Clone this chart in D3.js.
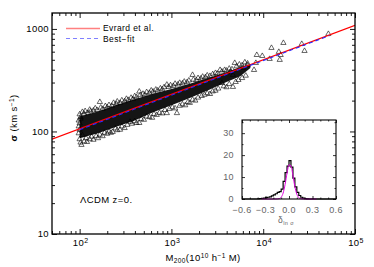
<!DOCTYPE html><meta charset="utf-8">
<title>sigma - M200</title>
<style>
  body{margin:0;background:#fff}
  svg{display:block}
  text{font-family:"Liberation Sans",Arial,sans-serif;letter-spacing:0.4px}
</style>
<script src="https://d3js.org/d3.v7.min.js"></script>
<body><script>
/* ---- data ---- */
const xMajor = [1e2, 1e3, 1e4, 1e5];
const xExp   = ["2", "3", "4", "5"];
const yMajor = [10, 100, 1000];

// dense core of the halo cloud (log10 M, lower / upper sigma)
const coreLogM = [2.0, 2.2, 2.4, 2.6, 2.8, 3.0, 3.2, 3.4, 3.6, 3.75, 3.86];
const coreLo   = [86, 96, 111, 128, 154, 180, 212, 252, 304, 346, 415];
const coreHi   = [140, 157, 181, 206, 233, 260, 292, 332, 377, 425, 450];

// individual haloes on the fringe of the cloud [log10 M, sigma]
const upperPts = [[2.00,147],[2.01,138],[2.03,155],[2.05,149],[2.06,158],[2.09,152],[2.11,163],[2.12,157],
  [2.15,160],[2.17,168],[2.19,162],[2.22,194],[2.23,171],[2.25,166],[2.28,177],[2.30,172],[2.32,181],
  [2.35,178],[2.37,190],[2.40,186],[2.41,196],[2.44,190],[2.46,201],[2.49,197],[2.51,208],[2.53,203],
  [2.56,213],[2.58,207],[2.60,221],[2.62,216],[2.65,245],[2.66,226],[2.69,233],[2.71,228],[2.73,242],
  [2.76,238],[2.78,251],[2.80,245],[2.83,256],[2.85,251],[2.88,263],[2.90,258],[2.92,270],[2.95,286],
  [2.97,272],[2.99,282],[3.02,278],[3.04,292],[3.07,287],[3.09,298],[3.12,294],[3.14,306],[3.17,302],
  [3.19,314],[3.23,356],[3.24,320],[3.27,316],[3.29,332],[3.32,328],[3.34,342],[3.37,338],[3.39,352],
  [3.42,348],[3.45,362],[3.48,372],[3.50,366],[3.53,398],[3.55,384],[3.58,398],[3.60,392],[3.63,410],
  [3.66,404],[3.69,466],[3.71,432],[3.74,450],[3.77,442],[3.80,472],[3.83,460]];
const lowerPts = [[2.00,84],[2.01,78],[2.02,74],[2.03,92],[2.05,80],[2.07,86],[2.08,79],[2.11,84],
  [2.13,89],[2.15,83],[2.18,90],[2.20,86],[2.22,93],[2.25,90],[2.27,97],[2.30,95],[2.32,100],[2.34,97],
  [2.36,99],[2.39,107],[2.41,103],[2.44,104],[2.46,112],[2.49,108],[2.52,116],[2.55,124],[2.57,119],
  [2.60,126],[2.62,121],[2.65,121],[2.67,132],[2.70,130],[2.73,140],[2.76,138],[2.79,136],[2.81,148],
  [2.84,145],[2.87,152],[2.90,150],[2.93,162],[2.95,151],[2.98,166],[3.01,172],[3.04,168],[3.06,151],
  [3.09,178],[3.12,184],[3.15,180],[3.18,194],[3.20,190],[3.23,204],[3.26,200],[3.29,214],[3.33,222],
  [3.36,228],[3.39,236],[3.42,232],[3.45,246],[3.48,250],[3.51,262],[3.55,297],[3.57,276],[3.60,270],
  [3.63,290],[3.67,272],[3.70,304],[3.73,318],[3.77,332],[3.81,350]];
const edgePts = [[1.99,96],[1.99,112],[1.99,128],[2.00,104],[2.00,120],[2.01,133]];
const massivePts = [[3.64,380],[3.67,356],[3.78,417],[3.83,445],[3.90,398],[3.92,466],[3.93,557],
  [3.99,545],[4.07,510],[4.09,653],[4.17,597],[4.18,499],[4.19,557],[4.22,730],[4.42,714],[4.45,610],
  [4.71,894]];

// Evrard et al. relation and best fit, end points
const evrardM = [50, 1e5],    evrardS = [84.2, 1083];
const fitM    = [100, 52500], fitS    = [104, 860];

// inset: histogram of delta ln sigma (bin left edges, width 0.025)
const histLeft  = [-0.4,-0.375,-0.35,-0.325,-0.3,-0.275,-0.25,-0.225,-0.2,-0.175,-0.15,-0.125,-0.1,
  -0.075,-0.05,-0.025,0,0.025,0.05,0.075,0.1,0.125,0.15,0.175,0.2,0.225];
const histCount = [0.1,0.2,0.3,0.4,0.6,0.8,1.0,1.4,1.9,2.4,3.0,3.4,4.5,8.0,12.0,15.0,17.5,14.5,9.5,5.5,
  3.0,1.6,0.8,0.4,0.2,0.1];
// gaussian fit curve in the inset
const fitD = [-0.35,-0.2,-0.15,-0.125,-0.1,-0.075,-0.05,-0.025,0,0.025,0.05,0.075,0.1,0.125,0.15,0.2,0.35];
const fitN = [0,0,0.03,0.18,0.8,2.7,6.6,11.8,15.6,15.1,10.8,5.6,2.2,0.6,0.13,0,0];
const insetXTicks = [-0.6,-0.3,0,0.3,0.6];
const insetYTicks = [0,10,20,30];

/* ---- layout ---- */
const W = 374, H = 267, L = 52, R = 355, T = 13, B = 234;
const svg = d3.select("body").append("svg").attr("width", W).attr("height", H);

const x = d3.scaleLog().domain([50, 1e5]).range([L, R]);
const y = d3.scaleLog().domain([10, 1430]).range([B, T]);

svg.append("clipPath").attr("id","clip").append("rect")
  .attr("x", L).attr("y", T).attr("width", R-L).attr("height", B-T);
const plot = svg.append("g").attr("clip-path","url(#clip)");

// cloud core
plot.append("path")
  .datum(coreLogM.map((m,i)=>({m, lo:coreLo[i], hi:coreHi[i]})))
  .attr("fill","#151515")
  .attr("d", d3.area().x(d=>x(10**d.m)).y0(d=>y(d.lo)).y1(d=>y(d.hi)));

const tri = d3.symbol(d3.symbolTriangle, 12);
plot.selectAll("path.pt")
  .data(upperPts.concat(lowerPts, edgePts, massivePts)).enter().append("path")
  .attr("class","pt").attr("d", tri)
  .attr("transform", d=>`translate(${x(10**d[0])},${y(d[1])})`)
  .attr("fill","none").attr("stroke","#000").attr("stroke-width",0.6);

const line = d3.line().x(d=>x(d[0])).y(d=>y(d[1]));
plot.append("path").datum(evrardM.map((m,i)=>[m,evrardS[i]]))
  .attr("d", line).attr("stroke","#ff0000").attr("stroke-width",1.1).attr("fill","none");
plot.append("path").datum(fitM.map((m,i)=>[m,fitS[i]]))
  .attr("d", line).attr("stroke","#2a2aff").attr("stroke-width",1.1)
  .attr("stroke-dasharray","4,3").attr("fill","none");

/* ---- axes: ticks inward on all sides ---- */
function tickSet(axis, pos, values, size){
  svg.append("g").attr("transform", pos)
    .call(axis.tickValues(values).tickSize(size).tickFormat(""))
    .call(g=>{ g.select(".domain").remove(); g.selectAll("line").attr("stroke-width",0.9); });
}
const xMinor = x.ticks().filter(v=>!xMajor.includes(v));
const yMinor = y.ticks().filter(v=>!yMajor.includes(v));
tickSet(d3.axisBottom(x), `translate(0,${B})`, xMajor, -5);
tickSet(d3.axisBottom(x), `translate(0,${B})`, xMinor, -3);
tickSet(d3.axisTop(x),    `translate(0,${T})`, xMajor, -5);
tickSet(d3.axisTop(x),    `translate(0,${T})`, xMinor, -3);
tickSet(d3.axisLeft(y),   `translate(${L},0)`, yMajor, -5);
tickSet(d3.axisLeft(y),   `translate(${L},0)`, yMinor, -3);
tickSet(d3.axisRight(y),  `translate(${R},0)`, yMajor, -5);
tickSet(d3.axisRight(y),  `translate(${R},0)`, yMinor, -3);

svg.append("rect").attr("x",L).attr("y",T).attr("width",R-L).attr("height",B-T)
  .attr("fill","none").attr("stroke","#000").attr("stroke-width",1.3);

// tick labels
const xl = svg.append("g").attr("font-size",9.5).attr("text-anchor","middle");
xMajor.forEach((v,i)=>{
  const t = xl.append("text").attr("x", x(v)+1).attr("y", 246);
  t.append("tspan").text("10");
  t.append("tspan").attr("dy",-3.5).attr("font-size",7).text(xExp[i]);
});
svg.append("g").attr("font-size",9.5).attr("text-anchor","end")
  .selectAll("text").data(yMajor).enter().append("text")
  .attr("x", 49).attr("y", d=>y(d)+3.4).text(d=>d);

// axis titles
const xt = svg.append("text").attr("x", 203).attr("y", 261).attr("text-anchor","middle").attr("font-size",9.5);
xt.append("tspan").text("M");
xt.append("tspan").attr("dy",2).attr("font-size",6.5).text("200");
xt.append("tspan").attr("dy",-2).text("(10");
xt.append("tspan").attr("dy",-3.5).attr("font-size",6.5).text("10");
xt.append("tspan").attr("dy",3.5).text(" h");
xt.append("tspan").attr("dy",-3.5).attr("font-size",6.5).text("−1");
xt.append("tspan").attr("dy",3.5).text(" M)");

const yt = svg.append("text").attr("transform","translate(17,118) rotate(-90)")
  .attr("text-anchor","middle").attr("font-size",9.5);
yt.append("tspan").attr("font-weight","bold").text("σ");
yt.append("tspan").text("  (km s");
yt.append("tspan").attr("dy",-3.5).attr("font-size",6.5).text("−1");
yt.append("tspan").attr("dy",3.5).text(")");

// legend
const lg = svg.append("g").attr("font-size",8.5).style("letter-spacing","0.6px");
lg.append("line").attr("x1",66).attr("x2",100).attr("y1",28.5).attr("y2",28.5)
  .attr("stroke","#ff8080").attr("stroke-width",1.3);
lg.append("line").attr("x1",66).attr("x2",100).attr("y1",38.5).attr("y2",38.5)
  .attr("stroke","#8080ff").attr("stroke-width",1.1).attr("stroke-dasharray","4,3");
lg.append("text").attr("x",103).attr("y",31).text("Evrard  et  al.");
lg.append("text").attr("x",103).attr("y",41.5).text("Best−fit");

svg.append("text").attr("x",80).attr("y",203).attr("font-size",9.5).text("ΛCDM  z=0.");

/* ---- inset ---- */
const iL = 242, iR = 336, iT = 120, iB = 199;
const ix = d3.scaleLinear().domain([-0.6,0.6]).range([iL,iR]);
const iy = d3.scaleLinear().domain([0,36]).range([iB,iT]);
const ins = svg.append("g");
ins.append("rect").attr("x",iL).attr("y",iT).attr("width",iR-iL).attr("height",iB-iT).attr("fill","#fff");

const histPts = histLeft.map((d,i)=>[d,histCount[i]]);
histPts.unshift([-0.6,0]);
histPts.push([histLeft[histLeft.length-1]+0.025,0],[0.6,0]);
ins.append("path").datum(histPts)
  .attr("d", d3.line().x(d=>ix(d[0])).y(d=>iy(d[1])).curve(d3.curveStepAfter))
  .attr("fill","none").attr("stroke","#000").attr("stroke-width",1.2);
ins.append("path").datum(fitD.map((d,i)=>[d,fitN[i]]))
  .attr("d", d3.line().x(d=>ix(d[0])).y(d=>iy(d[1])).curve(d3.curveMonotoneX))
  .attr("fill","none").attr("stroke","#e000e0").attr("stroke-width",1);

function insetTicks(axis, pos, values, size){
  ins.append("g").attr("transform", pos)
    .call(axis.tickValues(values).tickSize(size).tickFormat(""))
    .call(g=>{ g.select(".domain").remove(); g.selectAll("line").attr("stroke-width",0.8); });
}
const ixMinor = d3.range(-5,6).map(i=>i/10).filter(v=>!insetXTicks.some(t=>Math.abs(t-v)<1e-9));
const iyMinor = [5,15,25,35];
insetTicks(d3.axisBottom(ix), `translate(0,${iB})`, insetXTicks, -3);
insetTicks(d3.axisBottom(ix), `translate(0,${iB})`, ixMinor, -1.5);
insetTicks(d3.axisTop(ix),    `translate(0,${iT})`, insetXTicks, -3);
insetTicks(d3.axisTop(ix),    `translate(0,${iT})`, ixMinor, -1.5);
insetTicks(d3.axisLeft(iy),   `translate(${iL},0)`, insetYTicks, -3);
insetTicks(d3.axisLeft(iy),   `translate(${iL},0)`, iyMinor, -1.5);
insetTicks(d3.axisRight(iy),  `translate(${iR},0)`, insetYTicks, -3);
insetTicks(d3.axisRight(iy),  `translate(${iR},0)`, iyMinor, -1.5);
ins.append("rect").attr("x",iL).attr("y",iT).attr("width",iR-iL).attr("height",iB-iT)
  .attr("fill","none").attr("stroke","#000").attr("stroke-width",1.1);

ins.append("g").attr("font-size",9).attr("fill","#666").attr("text-anchor","middle")
  .selectAll("text").data(insetXTicks).enter().append("text")
  .attr("x", d=>ix(d)).attr("y", 213).text(d=>d3.format(".1f")(d).replace("-","−"));
ins.append("g").attr("font-size",9).attr("fill","#666").attr("text-anchor","end")
  .selectAll("text").data(insetYTicks).enter().append("text")
  .attr("x", 234).attr("y", d=>iy(d)+3.2).text(d=>d);
const dl = ins.append("text").attr("x",286).attr("y",223).attr("text-anchor","middle")
  .attr("font-size",8.5).attr("fill","#666");
dl.append("tspan").text("δ");
dl.append("tspan").attr("dy",2).attr("font-size",5.5).text("ln σ");
</script>
